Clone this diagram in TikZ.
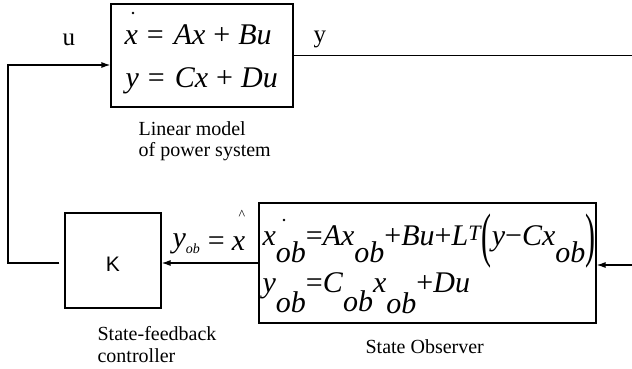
\documentclass[tikz,border=0pt]{standalone}
\usepackage{fontspec}
\setmainfont{Liberation Serif}
\newfontfamily\sansK{Liberation Sans}
\usepackage{graphicx}
\usetikzlibrary{arrows.meta,calc}
\newcommand\ii[1]{\textit{#1}}
\newcommand\lowob[1]{\raisebox{-#1}{\textit{ob}}}
\newcommand\bigparen[1]{\raisebox{-10pt}{\scalebox{1}[2]{#1}}}
\begin{document}
\begin{tikzpicture}[x=1pt,y=-1pt,line width=1.2pt,
  blockbox/.style={draw,line width=1.2pt,inner sep=0pt},
  arr/.style={-{Latex[length=9pt,width=6pt]}},
  eqn/.style={anchor=base west,inner sep=0pt,font=\fontsize{30}{34}\selectfont},
  sig/.style={anchor=base west,inner sep=0pt,font=\fontsize{25}{27}\selectfont},
  capt/.style={anchor=north west,inner sep=0pt,align=left,font=\fontsize{20}{21.5}\selectfont}]
\useasboundingbox (0,0) rectangle (632,369);

% blocks
\node[blockbox,minimum width=182pt,minimum height=103pt] (plant) at (202,55.5) {};
\node[blockbox,minimum width=96pt,minimum height=95pt] (K) at (113,260.5) {};
\node[blockbox,minimum width=337pt,minimum height=120pt] (obs) at (427.5,263) {};

% plant equations
\node[eqn] (pe1) at (124,45) {\ii{x}\hspace{9pt}=\hspace{10pt}\ii{Ax}\hspace{8pt}+\hspace{8pt}\ii{Bu}};
\node[eqn] (pe2) at (125,88) {\ii{y}\hspace{9pt}=\hspace{10pt}\ii{Cx}\hspace{8pt}+\hspace{8pt}\ii{Du}};
\fill (133,13) circle (1.4);

% controller label
\node[inner sep=0pt,font=\sansK\fontsize{21}{21}\selectfont] (klab) at (113,264.5) {K};

% observer equations
\node[eqn] (oe1) at (262,245) {\ii{x}\lowob{17pt}=\ii{Ax}\lowob{17pt}+\ii{Bu}+\ii{L}\raisebox{5pt}{\fontsize{22}{22}\selectfont\ii{T}}\bigparen{(}\ii{y}−\ii{Cx}\lowob{17pt}\bigparen{)}};
\node[eqn] (oe2) at (262,292) {\ii{y}\lowob{20pt}=\ii{C}\lowob{19pt}\ii{x}\lowob{21pt}+\ii{Du}};
\fill (284,220) circle (1.4);

% observer output label
\node[eqn] (yob) at (172,250) {\raisebox{3pt}{\ii{y}}\raisebox{-3pt}{\fontsize{14}{14}\selectfont\ii{ob}}\hspace{8pt}=\hspace{7pt}\ii{x}};
\node[inner sep=0pt,font=\fontsize{14}{14}\selectfont] (hat) at (242,215) {\textasciicircum};

% signal labels
\node[sig] (ulab) at (62,46) {u};
\node[sig] (ylab) at (313,43) {y};

% captions
\node[capt] (c1) at (138,121) {Linear model\\of power system};
\node[capt] (c2) at (97,326) {State-feedback\\controller};
\node[capt] (c3) at (365,339) {State Observer};

% connectors
\coordinate (yout) at (632,56);
\draw (plant.east) -- (plant.east -| yout);
\coordinate (yin) at (632,265);
\draw[arr] (yin) -- (yin -| obs.east);
\draw[arr] (obs.west) -- (obs.west -| K.east);
\coordinate (fbl) at (8,263);
\coordinate (fbt) at (8,65);
\draw[arr] ($(K.west |- fbl)+(-5,0)$) -- (fbl) -- (fbt) -- (fbt -| plant.west);
\end{tikzpicture}
\end{document}
